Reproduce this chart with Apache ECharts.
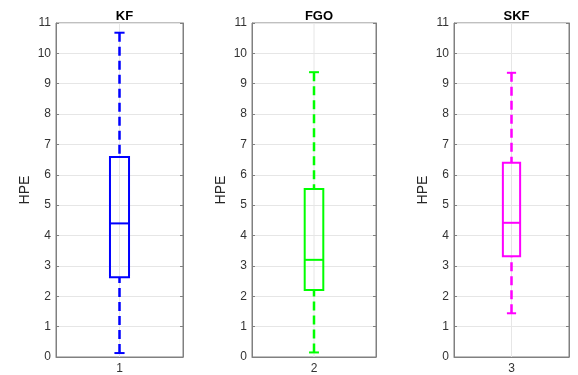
<!DOCTYPE html>
<html>
<head>
<meta charset="utf-8">
<script src="https://cdn.jsdelivr.net/npm/echarts@6/dist/echarts.min.js"></script>
<style>
html,body{margin:0;padding:0;background:#fff;}
#c{width:578px;height:375px;}
</style>
</head>
<body>
<div id="c"></div>
<script>
const categories = ['1', '2', '3'];
const titles = ['KF', 'FGO', 'SKF'];
const colors = ['#0000ff', '#00ff00', '#ff00ff'];
const mins = [0.13, 0.15, 1.44];
const q1s = [2.63, 2.21, 3.32];
const medians = [4.40, 3.20, 4.42];
const q3s = [6.59, 5.53, 6.40];
const maxs = [10.68, 9.38, 9.36];
const yTicks = [0, 11, 1]; // min, max, interval

const grids = [
  {left: 56, top: 23, width: 127, height: 337},
  {left: 252, top: 23, width: 124, height: 337},
  {left: 454, top: 23, width: 115, height: 337}
];

const font = 'Liberation Sans, Arial, Helvetica, sans-serif';

function makeRender(color) {
  return function (params, api) {
    const x = api.value(0);
    const pMin = api.coord([x, api.value(1)]);
    const pQ1 = api.coord([x, api.value(2)]);
    const pMed = api.coord([x, api.value(3)]);
    const pQ3 = api.coord([x, api.value(4)]);
    const pMax = api.coord([x, api.value(5)]);
    const band = api.size([1, 0])[0];
    const bw = band * 0.075;
    const cw = band * 0.04;
    const cx = pMed[0];
    const cs = params.coordSys;
    const dash = {stroke: color, lineWidth: 2.5, lineDash: [9, 5], fill: null};
    const solid = {stroke: color, lineWidth: 2, fill: null};
    return {
      type: 'group',
      children: [
        {type: 'line', shape: {x1: cx, y1: cs.y, x2: cx, y2: cs.y + cs.height}, style: {stroke: '#e6e6e6', lineWidth: 1}},
        {type: 'line', shape: {x1: cx, y1: pMax[1], x2: cx, y2: pQ3[1]}, style: dash},
        {type: 'line', shape: {x1: cx, y1: pMin[1], x2: cx, y2: pQ1[1]}, style: dash},
        {type: 'line', shape: {x1: cx - cw, y1: pMax[1], x2: cx + cw, y2: pMax[1]}, style: solid},
        {type: 'line', shape: {x1: cx - cw, y1: pMin[1], x2: cx + cw, y2: pMin[1]}, style: solid},
        {type: 'rect', shape: {x: cx - bw, y: pQ3[1], width: 2 * bw, height: pQ1[1] - pQ3[1]}, style: solid},
        {type: 'line', shape: {x1: cx - bw, y1: pMed[1], x2: cx + bw, y2: pMed[1]}, style: solid}
      ]
    };
  };
}

const option = {
  animation: false,
  backgroundColor: '#ffffff',
  title: titles.map((t, i) => ({
    text: t,
    left: grids[i].left + grids[i].width / 2,
    top: 5,
    textAlign: 'center',
    textStyle: {fontFamily: font, fontSize: 13, fontWeight: 'bold', color: '#000'}
  })),
  grid: grids.map(g => Object.assign({show: true, borderColor: '#808080', borderWidth: 1, backgroundColor: '#fff'}, g)),
  xAxis: categories.map((c, i) => ({
    type: 'category',
    gridIndex: i,
    data: [c],
    axisLine: {show: true, lineStyle: {color: '#808080'}},
    axisTick: {show: false},
    splitLine: {show: false},
    axisLabel: {fontFamily: font, fontSize: 12, color: '#333', margin: 6}
  })),
  yAxis: [].concat(
    categories.map((c, i) => ({
      type: 'value',
      gridIndex: i,
      min: yTicks[0], max: yTicks[1], interval: yTicks[2],
      name: 'HPE',
      nameLocation: 'middle',
      nameGap: 24,
      nameTextStyle: {fontFamily: font, fontSize: 14, color: '#262626'},
      axisLine: {show: true, lineStyle: {color: '#808080'}},
      axisTick: {show: true, inside: true, length: 3, lineStyle: {color: '#808080'}},
      splitLine: {show: true, lineStyle: {color: '#e6e6e6', width: 1}},
      axisLabel: {fontFamily: font, fontSize: 12, color: '#333', margin: 5}
    })),
    categories.map((c, i) => ({
      type: 'value',
      gridIndex: i,
      position: 'right',
      min: yTicks[0], max: yTicks[1], interval: yTicks[2],
      axisLine: {show: true, lineStyle: {color: '#808080'}},
      axisTick: {show: true, inside: true, length: 3, lineStyle: {color: '#808080'}},
      splitLine: {show: false},
      axisLabel: {show: false}
    }))
  ),
  series: categories.map((c, i) => ({
    type: 'custom',
    xAxisIndex: i,
    yAxisIndex: i,
    renderItem: makeRender(colors[i]),
    encode: {x: 0, y: [1, 2, 3, 4, 5]},
    data: [[0, mins[i], q1s[i], medians[i], q3s[i], maxs[i]]],
    z: 5
  }))
};

const chart = echarts.init(document.getElementById('c'), null, {renderer: 'canvas'});
chart.setOption(option);
</script>
</body>
</html>
